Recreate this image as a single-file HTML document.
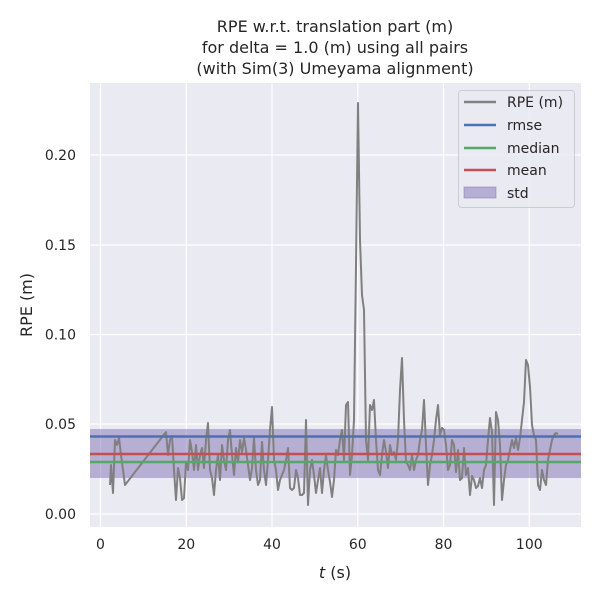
<!DOCTYPE html>
<html><head><meta charset="utf-8"><style>body{margin:0;background:#fff}svg{display:block}</style></head><body>
<svg width="600" height="600" viewBox="0 0 600 600" xmlns="http://www.w3.org/2000/svg" font-family="DejaVu Sans, Liberation Sans, sans-serif">
<rect width="600" height="600" fill="#fff"/>
<rect x="90" y="83" width="491" height="444" fill="#eaeaf2"/>
<g stroke="#fff" stroke-width="1.2">
<line x1="100.5" y1="83" x2="100.5" y2="527"/><line x1="186.3" y1="83" x2="186.3" y2="527"/><line x1="272" y1="83" x2="272" y2="527"/><line x1="357.8" y1="83" x2="357.8" y2="527"/><line x1="443.5" y1="83" x2="443.5" y2="527"/><line x1="529.3" y1="83" x2="529.3" y2="527"/>
<line x1="90" y1="514" x2="581" y2="514"/><line x1="90" y1="424" x2="581" y2="424"/><line x1="90" y1="334.5" x2="581" y2="334.5"/><line x1="90" y1="245" x2="581" y2="245"/><line x1="90" y1="155" x2="581" y2="155"/>
</g>
<rect x="90" y="429" width="491" height="49" fill="#8172b3" fill-opacity="0.5"/>
<polyline fill="none" stroke="#808080" stroke-width="2" stroke-linejoin="round" points="110,485 111,465 113,493 115,440 117,445 119,438 121,455 125,485 166,432 168,455 170,440 172,436 174,470 176,500 178,468 180,478 182,500 184,498 186,462 188,470 190,440 192,452 194,470 196,445 198,470 200,455 202,448 204,468 206,440 208,423 210,470 212,478 214,495 216,470 218,455 220,480 222,445 224,460 226,470 228,440 230,430 232,455 234,475 236,448 238,462 240,440 242,452 244,438 246,450 248,465 250,480 252,468 254,438 256,470 258,485 260,480 262,442 264,470 266,485 268,460 270,430 272,407 274,460 276,470 278,490 280,480 282,475 284,470 286,460 288,448 290,488 292,490 294,488 296,470 298,478 300,495 302,495 304,493 306,420 308,505 310,470 312,460 314,475 316,493 318,480 320,468 322,493 324,470 326,455 328,470 330,482 332,497 334,480 336,450 338,455 340,440 342,430 344,460 346,405 348,402 350,475 352,455 354,420 356,265 358,103 360,240 362,295 364,310 366,440 368,460 370,405 372,410 374,400 376,440 378,470 380,475 382,455 384,440 386,452 388,468 390,445 392,455 394,452 396,460 398,440 400,390 402,358 404,420 406,462 408,465 410,470 412,455 414,470 416,460 418,455 420,440 422,430 424,400 426,445 428,485 430,465 432,455 434,440 436,420 438,405 440,435 442,428 444,430 446,445 448,470 450,465 452,440 454,445 456,472 458,450 460,480 462,478 464,448 466,475 468,468 470,495 472,476 474,480 476,488 478,486 480,478 482,488 484,470 486,465 488,440 490,418 492,432 494,505 496,412 498,420 500,445 502,500 504,480 506,465 508,460 510,450 512,440 514,448 516,438 518,450 520,438 522,420 524,402 526,360 528,365 530,387 532,425 534,435 536,440 538,485 540,490 542,470 544,480 546,485 548,460 550,450 552,440 554,435 556,433 558,434"/>
<line x1="90" y1="436.5" x2="581" y2="436.5" stroke="#4c72b0" stroke-width="2.5"/>
<line x1="90" y1="454" x2="581" y2="454" stroke="#c44e52" stroke-width="2.5"/>
<line x1="90" y1="462" x2="581" y2="462" stroke="#55a868" stroke-width="2.5"/>
<g font-size="14" fill="#262626">
<g text-anchor="end"><text x="76" y="519">0.00</text><text x="76" y="429">0.05</text><text x="76" y="339.5">0.10</text><text x="76" y="250">0.15</text><text x="76" y="160">0.20</text></g>
<g text-anchor="middle"><text x="100.5" y="549">0</text><text x="186.3" y="549">20</text><text x="272" y="549">40</text><text x="357.8" y="549">60</text><text x="443.5" y="549">80</text><text x="529.3" y="549">100</text></g>
</g>
<text x="335" y="578" font-size="16" text-anchor="middle" fill="#262626"><tspan font-style="italic">t</tspan> (s)</text>
<text transform="translate(32,305) rotate(-90)" font-size="16" text-anchor="middle" fill="#262626">RPE (m)</text>
<g font-size="16" text-anchor="middle" fill="#262626">
<text x="335" y="32">RPE w.r.t. translation part (m)</text>
<text x="335" y="53">for delta = 1.0 (m) using all pairs</text>
<text x="335" y="74">(with Sim(3) Umeyama alignment)</text>
</g>
<rect x="458.5" y="90.5" width="116" height="117" rx="3" fill="#eaeaf2" fill-opacity="0.85" stroke="#cccccc"/>
<g stroke-width="2.5">
<line x1="464" y1="102" x2="496" y2="102" stroke="#808080"/>
<line x1="464" y1="125" x2="496" y2="125" stroke="#4c72b0"/>
<line x1="464" y1="148" x2="496" y2="148" stroke="#55a868"/>
<line x1="464" y1="170" x2="496" y2="170" stroke="#c44e52"/>
</g>
<rect x="464" y="187" width="32" height="11" fill="#8172b3" fill-opacity="0.5" stroke="#8172b3" stroke-opacity="0.5"/>
<g font-size="14" fill="#262626">
<text x="507" y="107">RPE (m)</text><text x="507" y="130">rmse</text><text x="507" y="153">median</text><text x="507" y="175">mean</text><text x="507" y="198">std</text>
</g>
</svg>
</body></html>
